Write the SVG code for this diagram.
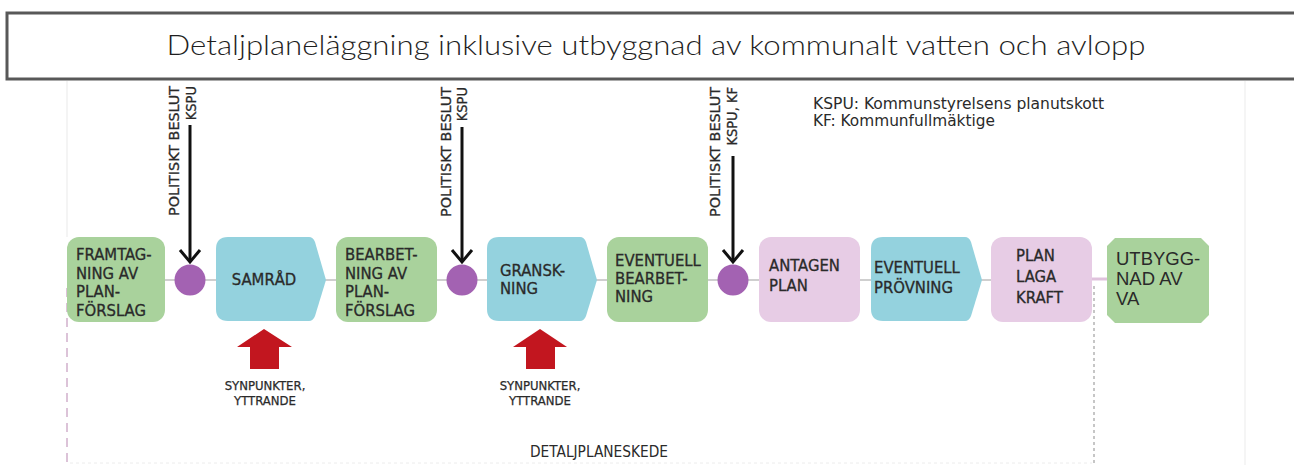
<svg xmlns="http://www.w3.org/2000/svg" width="1294" height="465" viewBox="0 0 1294 465">
<defs>
<style>
.t{font-family:"DejaVu Sans Condensed","DejaVu Sans","Liberation Sans",sans-serif;font-stretch:condensed;fill:#2a2a2a}
.lbl{font-size:16.5px;stroke:#2a2a2a;stroke-width:0.3}
.rot{font-size:14.5px;text-anchor:end;stroke:#2a2a2a;stroke-width:0.3}
.green{fill:#a9d29c}
.blue{fill:#94d2de}
.pink{fill:#e7cce5}
.dot{fill:#a362b2}
.con{stroke:#cfcfcf;stroke-width:2;fill:none}
.pol{stroke:#111;stroke-width:3;fill:none}
.red{fill:#c2161f}
</style>
</defs>
<rect x="0" y="0" width="1294" height="465" fill="#ffffff"/>
<!-- faint background guides -->
<line x1="67" y1="81" x2="67" y2="237" stroke="#f0f0f0" stroke-width="1.5"/>
<line x1="1245" y1="81" x2="1245" y2="465" stroke="#f2f2f2" stroke-width="1.5"/>
<line x1="67" y1="288" x2="67" y2="465" stroke="#dcc3d8" stroke-width="2" stroke-dasharray="9 6"/>
<line x1="1094" y1="286" x2="1094" y2="465" stroke="#b4b4b4" stroke-width="1.5" stroke-dasharray="3 3"/>
<line x1="70" y1="463" x2="1092" y2="463" stroke="#ececec" stroke-width="1" stroke-dasharray="3 3"/>

<!-- title -->
<g id="title">
<rect x="7" y="13" width="1300" height="66" fill="#ffffff" stroke="#585858" stroke-width="3"/>
<text x="656" y="55" font-family="Lato, 'Liberation Sans', sans-serif" font-weight="300" font-size="27" text-anchor="middle" textLength="979" lengthAdjust="spacingAndGlyphs" fill="#1e1e1e">Detaljplaneläggning inklusive utbyggnad av kommunalt vatten och avlopp</text>
</g>

<!-- legend -->
<g id="legend">
<text class="t" x="813" y="109" font-size="16" textLength="291" lengthAdjust="spacingAndGlyphs">KSPU: Kommunstyrelsens planutskott</text>
<text class="t" x="813" y="126" font-size="16" textLength="182" lengthAdjust="spacingAndGlyphs">KF: Kommunfullmäktige</text>
</g>

<!-- connectors -->
<g id="connectors">
<line class="con" x1="165" y1="280" x2="1092" y2="280"/>
<line x1="1092" y1="279" x2="1107" y2="279" stroke="#dfc2dc" stroke-width="3"/>
<line class="pol" x1="190" y1="125" x2="190" y2="262"/>
<polyline class="pol" points="180,250 190,262 200,250"/>
<line class="pol" x1="462" y1="127" x2="462" y2="262"/>
<polyline class="pol" points="452,250 462,262 472,250"/>
<line class="pol" x1="733" y1="156" x2="733" y2="262"/>
<polyline class="pol" points="723,250 733,262 743,250"/>
<polygon class="red" points="264,329 292,347 279,347 279,369 250,369 250,347 237,347"/>
<polygon class="red" points="540,329 567,347 555,347 555,369 526,369 526,347 513,347"/>
</g>

<!-- political decisions -->
<g id="beslut1">
<circle class="dot" cx="190" cy="280" r="15.5"/>
<text class="t rot" transform="translate(179,86) rotate(-90)" textLength="130" lengthAdjust="spacingAndGlyphs">POLITISKT BESLUT</text>
<text class="t rot" transform="translate(196,86) rotate(-90)">KSPU</text>
</g>
<g id="beslut2">
<circle class="dot" cx="462" cy="280" r="15.5"/>
<text class="t rot" transform="translate(451,87) rotate(-90)" textLength="130" lengthAdjust="spacingAndGlyphs">POLITISKT BESLUT</text>
<text class="t rot" transform="translate(467,87) rotate(-90)">KSPU</text>
</g>
<g id="beslut3">
<circle class="dot" cx="733" cy="280" r="15.5"/>
<text class="t rot" transform="translate(720,87) rotate(-90)" textLength="130" lengthAdjust="spacingAndGlyphs">POLITISKT BESLUT</text>
<text class="t rot" transform="translate(737,87) rotate(-90)">KSPU, KF</text>
</g>

<!-- nodes -->
<g id="framtagning">
<rect class="green" x="67" y="237" width="98" height="85" rx="12"/>
<text class="t lbl"><tspan x="76" y="260">FRAMTAG-</tspan><tspan x="76" y="278.5">NING AV</tspan><tspan x="76" y="297">PLAN-</tspan><tspan x="76" y="315.5">FÖRSLAG</tspan></text>
</g>
<g id="samrad">
<path class="blue" d="M228 237 H309 Q313 237 315 242 L326 280 L315 316 Q313 321 309 321 H228 Q216 321 216 309 V249 Q216 237 228 237 Z"/>
<text class="t lbl" x="264" y="285" text-anchor="middle">SAMRÅD</text>
</g>
<g id="bearbetning">
<rect class="green" x="336" y="237" width="101" height="85" rx="12"/>
<text class="t lbl"><tspan x="345" y="260">BEARBET-</tspan><tspan x="345" y="278.5">NING AV</tspan><tspan x="345" y="297">PLAN-</tspan><tspan x="345" y="315.5">FÖRSLAG</tspan></text>
</g>
<g id="granskning">
<path class="blue" d="M499 237 H580 Q584 237 586 242 L597 280 L586 316 Q584 321 580 321 H499 Q487 321 487 309 V249 Q487 237 499 237 Z"/>
<text class="t lbl"><tspan x="500" y="276">GRANSK-</tspan><tspan x="500" y="294">NING</tspan></text>
</g>
<g id="eventuell-bearbetning">
<rect class="green" x="607" y="237" width="101" height="85" rx="12"/>
<text class="t lbl"><tspan x="615" y="266">EVENTUELL</tspan><tspan x="615" y="284">BEARBET-</tspan><tspan x="615" y="302">NING</tspan></text>
</g>
<g id="antagen">
<rect class="pink" x="759" y="237" width="101" height="85" rx="12"/>
<text class="t lbl"><tspan x="769" y="271">ANTAGEN</tspan><tspan x="769" y="291">PLAN</tspan></text>
</g>
<g id="provning">
<path class="blue" d="M883 237 H965 Q969 237 971 242 L982 280 L971 316 Q969 321 965 321 H883 Q871 321 871 309 V249 Q871 237 883 237 Z"/>
<text class="t lbl"><tspan x="874" y="273">EVENTUELL</tspan><tspan x="874" y="293">PRÖVNING</tspan></text>
</g>
<g id="laga-kraft">
<rect class="pink" x="991" y="237" width="101" height="85" rx="12"/>
<text class="t lbl"><tspan x="1016" y="261">PLAN</tspan><tspan x="1016" y="282">LAGA</tspan><tspan x="1016" y="303">KRAFT</tspan></text>
</g>
<g id="utbyggnad">
<polygon class="green" points="1115,238 1201,238 1209,246 1209,315 1201,323 1115,323 1107,315 1107,246"/>
<text font-family="'Liberation Sans', Arial, sans-serif" fill="#2a2a2a" font-size="18.5"><tspan x="1116" y="265">UTBYGG-</tspan><tspan x="1116" y="285">NAD AV</tspan><tspan x="1116" y="305">VA</tspan></text>
</g>

<!-- feedback labels -->
<g id="synpunkter1">
<text class="t" font-size="13" text-anchor="middle" stroke="#2a2a2a" stroke-width="0.25"><tspan x="265" y="390">SYNPUNKTER,</tspan><tspan x="265" y="405">YTTRANDE</tspan></text>
</g>
<g id="synpunkter2">
<text class="t" font-size="13" text-anchor="middle" stroke="#2a2a2a" stroke-width="0.25"><tspan x="540" y="390">SYNPUNKTER,</tspan><tspan x="540" y="405">YTTRANDE</tspan></text>
</g>
<g id="skede">
<text class="t" x="530" y="457" font-size="15.5" textLength="138" lengthAdjust="spacingAndGlyphs">DETALJPLANESKEDE</text>
</g>
</svg>
